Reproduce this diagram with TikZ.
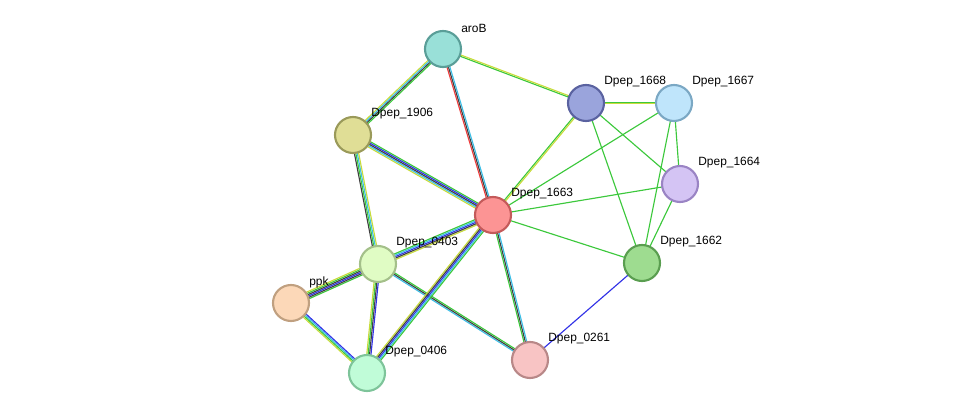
\documentclass[tikz,border=0pt]{standalone}
\usepackage{fontspec}
\setmainfont{Liberation Sans}
\usetikzlibrary{calc}
\definecolor{cg}{HTML}{3CC83C}
\definecolor{cy}{HTML}{C8DC3C}
\definecolor{cb}{HTML}{3232E6}
\definecolor{cc}{HTML}{3CBEE6}
\definecolor{cd}{HTML}{404040}
\definecolor{cr}{HTML}{F03C3C}
\newcommand\medge[4]{% from, to, n, colors
  \foreach \c [count=\i] in {#4}{
    \pgfmathsetmacro\o{(\i-(#3+1)/2)*0.8}
    \draw[line width=0.65pt,\c] ($(#1)!\o pt!90:(#2)$) -- ($(#2)!\o pt!-90:(#1)$);
  }}
\begin{document}
\begin{tikzpicture}[x=0.02cm,y=-0.02cm,
  prot/.style={circle,minimum size=0.72cm,line width=1.2pt,inner sep=0},
  lbl/.style={anchor=west,font=\fontsize{6.8pt}{7pt}\selectfont,inner sep=0}]
\useasboundingbox (0,0) rectangle (975,419);
\coordinate (aroB) at (443,49);
\coordinate (n1906) at (353,135);
\coordinate (n1668) at (586,103);
\coordinate (n1667) at (674,103);
\coordinate (n1664) at (680,184);
\coordinate (n1663) at (493,215);
\coordinate (n1662) at (642,263);
\coordinate (n0403) at (378,264);
\coordinate (ppk) at (291,303);
\coordinate (n0406) at (367,373);
\coordinate (n0261) at (530,360);
\medge{aroB}{n1906}{4}{cy,cc,cd,cg}
\medge{aroB}{n1663}{3}{cr,cd,cc}
\medge{aroB}{n1668}{2}{cg,cy}
\medge{n1906}{n1663}{5}{cy,cc,cd,cb,cg}
\medge{n1906}{n0403}{4}{cd,cg,cc,cy}
\medge{n0403}{n1663}{5}{cy,cd,cb,cc,cg}
\medge{ppk}{n0403}{6}{cg,cd,cb,cd,cg,cy}
\medge{n0403}{n0406}{4}{cy,cg,cd,cb}
\medge{n0403}{n0261}{3}{cc,cd,cg}
\medge{n1663}{n0406}{5}{cy,cd,cb,cc,cg}
\medge{n1663}{n0261}{3}{cg,cd,cc}
\medge{ppk}{n0406}{4}{cy,cg,cc,cb}
\medge{n1668}{n1667}{2}{cy,cg}
\medge{n1668}{n1663}{2}{cg,cy}
\foreach \a/\b in {n1668/n1664,n1668/n1662,n1667/n1663,n1667/n1664,n1667/n1662,n1664/n1663,n1664/n1662,n1663/n1662}
  \draw[line width=0.65pt,cg] (\a) -- (\b);
\draw[line width=0.65pt,cb] (n1662) -- (n0261);
\foreach \n/\f/\s/\t in {aroB/99E0D8/5A9E98/aroB, n1906/E0DE96/9A9A5A/Dpep\_1906, n1668/9AA4DC/5A62A0/Dpep\_1668,
  n1667/BFE5FB/7BA8C4/Dpep\_1667, n1664/D4C4F4/9A84C4/Dpep\_1664, n1663/FC9494/C45A5A/Dpep\_1663,
  n1662/9EDC90/5A9E50/Dpep\_1662, n0403/E0FCC4/A4C08A/Dpep\_0403, ppk/FCD8B8/C0A080/ppk,
  n0406/C0FCD8/7EC49A/Dpep\_0406, n0261/F8C4C4/B88888/Dpep\_0261}{
  \definecolor{ff}{HTML}{\f}\definecolor{ss}{HTML}{\s}
  \node[prot,fill=ff,draw=ss] (\n-c) at (\n) {};
  \node[lbl] (\n-l) at ($(\n)+(18,-21)$) {\t};
}
\end{tikzpicture}
\end{document}
